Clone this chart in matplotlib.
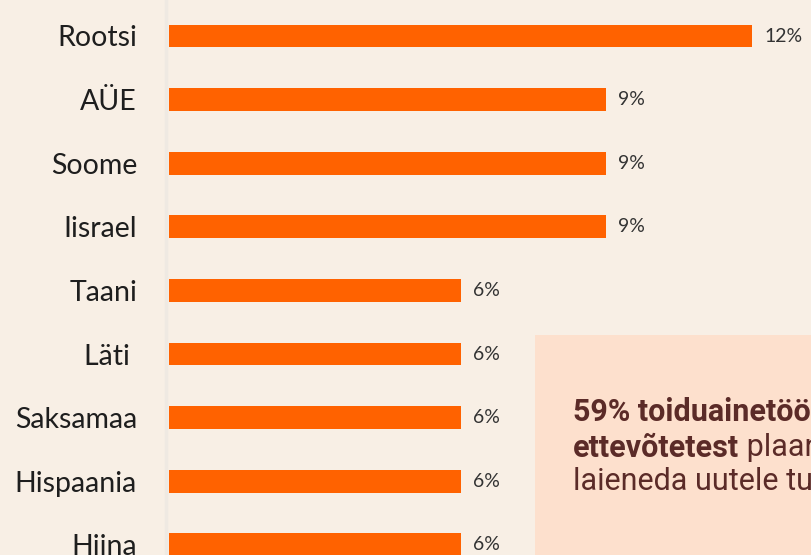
import matplotlib.pyplot as plt
from matplotlib.patches import Rectangle

# Data
countries = ["Rootsi", "AÜE", "Soome", "Iisrael", "Taani", "Läti ", "Saksamaa", "Hispaania", "Hiina"]
shares = [12, 9, 9, 9, 6, 6, 6, 6, 6]
value_labels = [f"{v}%" for v in shares]

BG = "#f8efe5"
BAR = "#ff6200"
BOX = "#fde0cd"
BROWN = "#5b2b28"

W, H = 812, 555
fig = plt.figure(figsize=(W / 100, H / 100), dpi=100, facecolor=BG)

# axes start at the bar baseline (x=169 px) and run past the bottom edge
ax = fig.add_axes([169 / W, 0, 1 - 169 / W, 1])
ax.set_facecolor("none")
px_per_unit = 48.6
row = 63.6
ax.set_xlim(0, (W - 169) / px_per_unit)
ax.set_ylim((H - 36) / row, -36 / row)

ypos = list(range(len(countries)))
ax.barh(ypos, shares, height=0.36, color=BAR, zorder=2)
for y, v, lab in zip(ypos, shares, value_labels):
    ax.text(v + 12 / px_per_unit, y, lab, va="center", ha="left",
            fontsize=14, family="Lato", color="#333333")

for s in ["top", "right", "bottom", "left"]:
    ax.spines[s].set_visible(False)
ax.set_xticks([])
ax.set_yticks(ypos)
ax.set_yticklabels(countries, fontsize=20.5, family="Lato", color="#1e1e1e")
ax.tick_params(axis="y", length=0, pad=23)
ax.axvline(-3 / px_per_unit, color="#efe9e2", lw=2.5, clip_on=False)

# callout box on the lower right
fig.patches.append(Rectangle((535 / W, 0), 1, 1 - 335 / H, transform=fig.transFigure,
                             facecolor=BOX, edgecolor="none", zorder=0))

tx = 573 / W
fs = 22
fig.text(tx, 1 - 412 / H, "59% toiduainetööstuse", fontsize=fs, family="Roboto",
         weight="bold", color=BROWN, va="center")
t2 = fig.text(tx, 1 - 448 / H, "ettevõtetest", fontsize=fs, family="Roboto",
              weight="bold", color=BROWN, va="center")
fig.text(tx, 1 - 482 / H, "laieneda uutele turgudele", fontsize=fs, family="Roboto",
         color=BROWN, va="center")

# regular-weight continuation right after the bold word
fig.canvas.draw()
bb = t2.get_window_extent()
fig.text(bb.x1 / W, 1 - 448 / H, " plaanib", fontsize=fs, family="Roboto",
         color=BROWN, va="center")

fig.savefig("out.png", dpi=100, facecolor=BG)
